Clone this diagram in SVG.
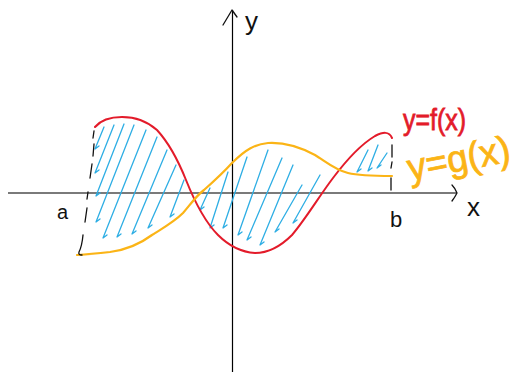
<svg xmlns="http://www.w3.org/2000/svg" width="524" height="372" viewBox="0 0 524 372">
<style>
.axisx{stroke:#7a7a7a;stroke-width:2;fill:none}
.axisy{stroke:#000;stroke-width:1.2;fill:none}
.pen{stroke:#111;stroke-width:1.3;fill:none;stroke-linecap:round;stroke-linejoin:round}
.f{stroke:#e31b2a;stroke-width:2;fill:none;stroke-linecap:round}
.g{stroke:#fbb416;stroke-width:2.2;fill:none;stroke-linecap:round}
.h{stroke:#2eaee4;stroke-width:1.3;fill:none;stroke-linecap:round;stroke-linejoin:round}
.lbl{font-family:"Liberation Sans",Arial,sans-serif}
</style>
<rect width="524" height="372" fill="#fff"/>
<g id="axes">
<path class="axisx" d="M8,193 L457,193"/>
<path class="pen" d="M452,185 Q455,188 457,193 Q455,197 452,201"/>
<path class="axisy" d="M232.5,10 L232.5,372"/>
<path class="pen" d="M223,25 L232,10 L237,17"/>
<text class="lbl" x="245" y="30" font-size="26" fill="#111">y</text>
<text class="lbl" x="467" y="216" font-size="26" fill="#111">x</text>
</g>
<g id="hatch">
<path class="h" d="M104,127 L95,149 l4,-3 M114,125 L95,173 l4,-3 M124,124 L96,196 l4,-3 M134,125 L96,222 l4,-3 M146,130 L103,238 l4,-3 M157,137 L117,237 l4,-3 M167,150 L132,234 l4,-3 M176,165 L148,228 l4,-3 M184,180 L170,217 l4,-3"/>
<path class="h" d="M210,188 L200,210 l4,-3 M228,172 L210,228 l4,-3 M247,157 L223,228 l4,-3 M268,150 L238,235 l4,-3 M282,158 L247,240 l4,-3 M293,165 L260,245 l4,-3 M302,185 L275,232 l4,-3 M320,175 L293,223 l4,-3"/>
<path class="h" d="M368,150 L357,172 l4,-3 M378,145 L368,171 l4,-3 M387,153 L377,168 l4,-3"/>
</g>
<g id="curves">
<path id="f" class="f" d="M95,127 C100,121 110,117 122,117 C135,117 148,122 157,130 C168,142 178,160 186,180 C194,200 205,222 218,235 C228,245 240,252 255,253 C270,253 282,245 292,235 C305,220 320,195 333,178 C345,162 360,145 375,136 C383,132 389,131 392,138"/>
<path id="g" class="g" d="M77,255 C90,254 100,253 110,252 C125,250 140,244 152,235 C163,228 174,222 183,213 C190,205 196,196 204,190 C213,182 222,174 232,163 C245,150 255,144 268,143 C285,142 300,147 315,155 C325,161 335,170 348,173 C360,176 375,176 392,176"/>
</g>
<g id="bounds">
<path class="pen" d="M94,131 L93,138 M94,144 L93,156 M92,164 L90,178 M88,192 L87,199 M87,208 L85,222 M83,235 Q82,246 79,252 Q78,255 82,255"/>
<path class="pen" d="M392,145 L392,157 M392,162 L391,168 M391,178 L391,190"/>
<text class="lbl" x="57" y="219" font-size="20" fill="#111">a</text>
<text class="lbl" x="390" y="227" font-size="22" fill="#111">b</text>
</g>
<g id="labels">
<text class="lbl" x="403" y="130" font-size="30" fill="#e31b2a" stroke="#e31b2a" stroke-width="0.8" textLength="63" lengthAdjust="spacingAndGlyphs">y=f(x)</text>
<text class="lbl" x="410" y="181" font-size="38" fill="#fbb416" stroke="#fbb416" stroke-width="0.8" transform="rotate(-11 410 181)" textLength="104" lengthAdjust="spacingAndGlyphs">y=g(x)</text>
</g>
</svg>
